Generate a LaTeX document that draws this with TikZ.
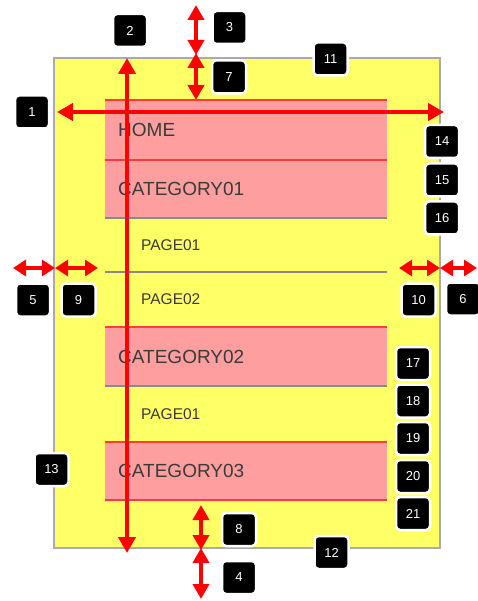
\documentclass[tikz,border=0pt]{standalone}
\usepackage{fontspec}
\setmainfont{Liberation Sans}
\usetikzlibrary{arrows.meta}
\definecolor{bgyellow}{HTML}{FFFF66}
\definecolor{catpink}{HTML}{FF9E9E}
\definecolor{linered}{HTML}{FF3B3B}
\definecolor{arrowred}{HTML}{FF0000}
\definecolor{txtgray}{HTML}{3A3A3A}
\definecolor{rulegray}{HTML}{8A8A8A}
\definecolor{framegray}{HTML}{AAAAAA}
\tikzset{
  rowbox/.style={anchor=north west, inner sep=0pt, outer sep=0pt, minimum width=282pt},
  catrow/.style={rowbox, fill=catpink},
  pagerow/.style={rowbox},
  cattext/.style={anchor=west, inner sep=0pt, text=txtgray, font=\fontsize{19}{19}\selectfont},
  pagetext/.style={anchor=west, inner sep=0pt, text=txtgray, font=\fontsize{15.5}{15.5}\selectfont},
  redrule/.style={draw=linered, line width=2pt},
  grayrule/.style={draw=rulegray, line width=1.5pt},
  bigarrow/.style={draw=arrowred, line width=4.5pt, {Triangle[length=16pt,width=17pt]}-{Triangle[length=16pt,width=17pt]}},
  midarrow/.style={draw=arrowred, line width=4pt, {Triangle[length=15pt,width=16pt]}-{Triangle[length=15pt,width=16pt]}},
  smallarrow/.style={draw=arrowred, line width=3.5pt, {Triangle[length=13pt,width=16pt]}-{Triangle[length=13pt,width=16pt]}},
  tag/.style={fill=black, draw=white, line width=2.5pt, rounded corners=4pt, minimum width=34pt, minimum height=33pt, inner sep=0pt, text=white, font=\fontsize{13}{13}\selectfont},
}
\begin{document}
\begin{tikzpicture}[x=1pt, y=-1pt]
\useasboundingbox (0,0) rectangle (477,601);
% frame
\node[anchor=north west, inner sep=0pt, outer sep=0pt, fill=bgyellow, draw=framegray, line width=1.5pt, minimum width=386pt, minimum height=490pt] (frame) at (54,58) {};
% rows
\node[catrow, minimum height=60pt] (home) at (105,100) {};
\node[catrow, minimum height=58pt] (cat1) at (105,160) {};
\node[pagerow, minimum height=54pt] (pg1) at (105,218) {};
\node[pagerow, minimum height=55pt] (pg2) at (105,272) {};
\node[catrow, minimum height=59pt] (cat2) at (105,327) {};
\node[pagerow, minimum height=56pt] (pg3) at (105,386) {};
\node[catrow, minimum height=58pt] (cat3) at (105,442) {};
% rules
\draw[redrule] (home.north west) -- (home.north east);
\draw[redrule] (home.south west) -- (home.south east);
\draw[grayrule] (cat1.south west) -- (cat1.south east);
\draw[grayrule] (pg1.south west) -- (pg1.south east);
\draw[redrule] (cat2.north west) -- (cat2.north east);
\draw[grayrule] (cat2.south west) -- (cat2.south east);
\draw[redrule] (cat3.north west) -- (cat3.north east);
\draw[redrule] (cat3.south west) -- (cat3.south east);
% texts
\node[cattext] (thome) at ([xshift=13pt]home.west) {HOME};
\node[cattext] (tcat1) at ([xshift=13pt]cat1.west) {CATEGORY01};
\node[pagetext] (tpg1) at ([xshift=36pt]pg1.west) {PAGE01};
\node[pagetext] (tpg2) at ([xshift=36pt]pg2.west) {PAGE02};
\node[cattext] (tcat2) at ([xshift=13pt]cat2.west) {CATEGORY02};
\node[pagetext] (tpg3) at ([xshift=36pt]pg3.west) {PAGE01};
\node[cattext] (tcat3) at ([xshift=13pt]cat3.west) {CATEGORY03};
% arrow endpoints
\coordinate (a1l) at (57,112);   \coordinate (a1r) at (444,112);
\coordinate (a2t) at (127,58);   \coordinate (a2b) at (127,553);
\coordinate (a3t) at (196,5);    \coordinate (a3b) at (196,55);
\coordinate (a7t) at (196,53);   \coordinate (a7b) at (196,100);
\coordinate (a8t) at (201,505);  \coordinate (a8b) at (201,550);
\coordinate (a4t) at (201,548);  \coordinate (a4b) at (201,599);
\coordinate (a5l) at (13,268);   \coordinate (a5r) at (55,268);
\coordinate (a9l) at (55,268);   \coordinate (a9r) at (98,268);
\coordinate (a10l) at (399,268); \coordinate (a10r) at (440,268);
\coordinate (a6l) at (440,268);  \coordinate (a6r) at (477,268);
% arrows
\draw[bigarrow] (a1l) -- (a1r);
\draw[bigarrow] (a2t) -- (a2b);
\draw[midarrow] (a3t) -- (a3b);
\draw[midarrow] (a7t) -- (a7b);
\draw[midarrow] (a8t) -- (a8b);
\draw[midarrow] (a4t) -- (a4b);
\draw[smallarrow] (a5l) -- (a5r);
\draw[smallarrow] (a9l) -- (a9r);
\draw[smallarrow] (a10l) -- (a10r);
\draw[smallarrow] (a6l) -- (a6r);
% tags
\node[tag] (n1) at (32,112) {1};
\node[tag] (n2) at (130,30.5) {2};
\node[tag] (n3) at (229.5,27.5) {3};
\node[tag] (n4) at (239,577.5) {4};
\node[tag] (n5) at (33,300) {5};
\node[tag] (n6) at (463,299) {6};
\node[tag] (n7) at (229,77) {7};
\node[tag] (n8) at (239,529.5) {8};
\node[tag] (n9) at (78.5,300) {9};
\node[tag] (n10) at (418.5,300) {10};
\node[tag] (n11) at (330.5,59) {11};
\node[tag] (n12) at (331.5,552.5) {12};
\node[tag] (n13) at (51.5,469.5) {13};
\node[tag] (n14) at (442,141.5) {14};
\node[tag] (n15) at (442,180) {15};
\node[tag] (n16) at (442,218) {16};
\node[tag] (n17) at (413,363.5) {17};
\node[tag] (n18) at (413,401) {18};
\node[tag] (n19) at (413,438.5) {19};
\node[tag] (n20) at (413,476.5) {20};
\node[tag] (n21) at (413,513.5) {21};
\end{tikzpicture}
\end{document}
